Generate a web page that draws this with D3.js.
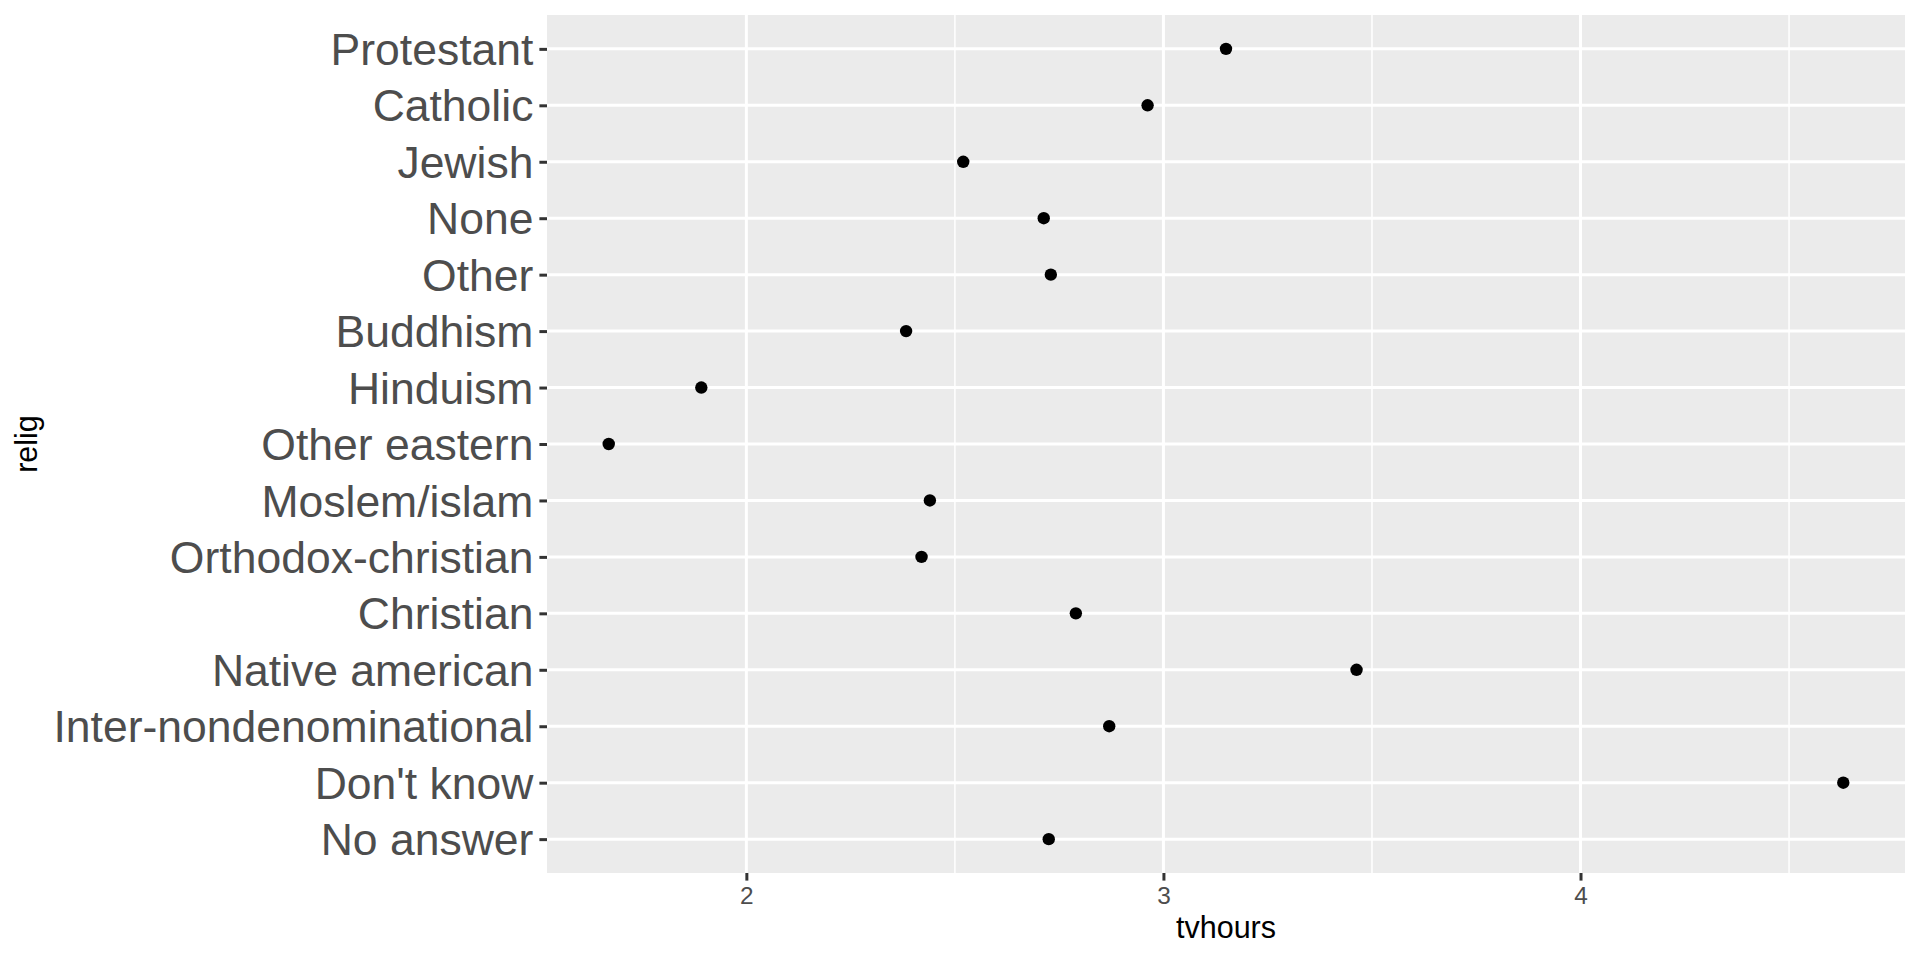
<!DOCTYPE html>
<html>
<head>
<meta charset="utf-8">
<script src="https://cdn.jsdelivr.net/npm/d3@7"></script>
<style>
  body { margin: 0; background: #fff; }
  svg { display: block; font-family: "Liberation Sans", Arial, sans-serif; }
</style>
</head>
<body>
<div id="main"></div>
<script>
// religions, top to bottom
const religions = ["Protestant", "Catholic", "Jewish", "None", "Other", "Buddhism", "Hinduism",
  "Other eastern", "Moslem/islam", "Orthodox-christian", "Christian", "Native american",
  "Inter-nondenominational", "Don't know", "No answer"];
// mean tv hours per religion
const tvhours = [3.15, 2.962, 2.52, 2.713, 2.73, 2.383, 1.892, 1.67, 2.44, 2.42, 2.79, 3.463, 2.87, 4.63, 2.725];
const xTicks = [2, 3, 4];
const xMinorTicks = [1.5, 2.5, 3.5, 4.5];

class DotPlot {
  constructor(config) {
    this.config = config;
    this.points = religions.map((r, i) => ({ relig: r, tvhours: tvhours[i] }));
    this.createSvg();
    this.createScales();
    this.renderPanel();
    this.createAxis();
    this.renderPoints();
  }

  createSvg() {
    let c = this.config;
    this.svg = d3.select(c.div)
      .append("svg")
      .attr("width", c.width + c.left + c.right)
      .attr("height", c.height + c.top + c.bottom);
    this.margins = this.svg.append("g")
      .attr("transform", `translate(${c.left},${c.top})`);
  }

  createScales() {
    // ggplot style: 5% expansion on continuous, 0.6 step on discrete
    let ext = d3.extent(this.points, d => d.tvhours);
    let pad = (ext[1] - ext[0]) * 0.05;
    this.xScale = d3.scaleLinear().domain([ext[0] - pad, ext[1] + pad]).range([0, this.config.width]);
    this.yScale = d3.scalePoint().domain(religions).range([0, this.config.height]).padding(0.6);
  }

  renderPanel() {
    let w = this.config.width, h = this.config.height;
    let [x0, x1] = this.xScale.domain();
    this.margins.append("rect")
      .attr("width", w).attr("height", h)
      .attr("fill", "#EBEBEB");

    this.margins.selectAll(".minor")
      .data(xMinorTicks.filter(t => t > x0 && t < x1))
      .enter().append("line")
      .attr("x1", d => this.xScale(d)).attr("x2", d => this.xScale(d))
      .attr("y1", 0).attr("y2", h)
      .attr("stroke", "#fff").attr("stroke-width", 1.5);

    this.margins.selectAll(".gx")
      .data(xTicks)
      .enter().append("line")
      .attr("x1", d => this.xScale(d)).attr("x2", d => this.xScale(d))
      .attr("y1", 0).attr("y2", h)
      .attr("stroke", "#fff").attr("stroke-width", 3);

    this.margins.selectAll(".gy")
      .data(religions)
      .enter().append("line")
      .attr("x1", 0).attr("x2", w)
      .attr("y1", d => this.yScale(d)).attr("y2", d => this.yScale(d))
      .attr("stroke", "#fff").attr("stroke-width", 3);
  }

  createAxis() {
    let c = this.config;
    let xAxis = d3.axisBottom(this.xScale).tickValues(xTicks).tickFormat(d3.format("d"))
      .tickSize(7.6).tickPadding(6);
    let yAxis = d3.axisLeft(this.yScale).tickSize(7.6).tickPadding(6);

    let gx = this.margins.append("g")
      .attr("transform", `translate(0,${c.height})`)
      .call(xAxis);
    gx.select(".domain").remove();
    gx.selectAll("line").attr("stroke", "#333333").attr("stroke-width", 3);
    gx.selectAll("text").attr("fill", "#4D4D4D").style("font-size", "24.4px")
      .attr("font-family", null);

    let gy = this.margins.append("g").call(yAxis);
    gy.select(".domain").remove();
    gy.selectAll("line").attr("stroke", "#333333").attr("stroke-width", 3);
    gy.selectAll("text").attr("fill", "#4D4D4D").style("font-size", "44.5px")
      .attr("font-family", null).attr("dy", "0.35em");

    this.svg.append("text")
      .attr("x", c.left + c.width / 2)
      .attr("y", 938)
      .attr("text-anchor", "middle")
      .style("font-size", "30.5px")
      .text("tvhours");

    this.svg.append("text")
      .attr("transform", `translate(37,${c.top + c.height / 2})rotate(-90)`)
      .attr("text-anchor", "middle")
      .style("font-size", "30.5px")
      .text("relig");
  }

  renderPoints() {
    this.margins.selectAll(".pt")
      .data(this.points)
      .enter().append("circle")
      .attr("cx", d => this.xScale(d.tvhours))
      .attr("cy", d => this.yScale(d.relig))
      .attr("r", 6.2)
      .attr("fill", "#000");
  }
}

let config = { div: "#main", width: 1358, height: 858, top: 15, left: 547, bottom: 87, right: 15 };
new DotPlot(config);
</script>
</body>
</html>
